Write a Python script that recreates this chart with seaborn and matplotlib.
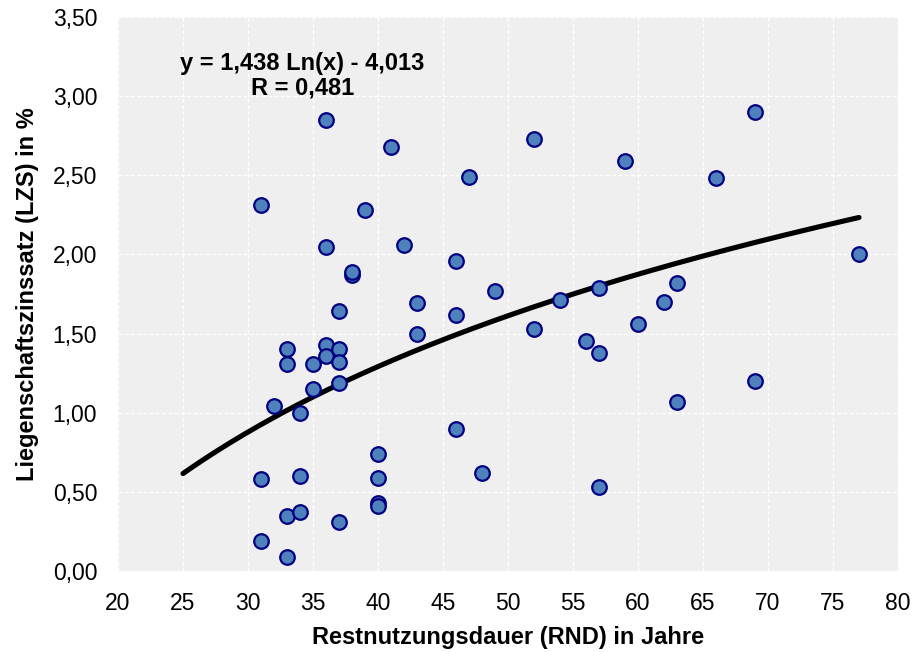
import numpy as np
import pandas as pd
import matplotlib
matplotlib.use("Agg")
import matplotlib.pyplot as plt
import seaborn as sns
from matplotlib.ticker import FuncFormatter, MultipleLocator

# Data
rnd = [31, 31, 31, 32, 33, 33, 33, 33, 34, 34, 34, 35, 35, 36, 36, 36, 36,
       37, 37, 37, 37, 37, 38, 38, 39, 40, 40, 40, 40, 41, 42, 43, 43,
       46, 46, 46, 47, 48, 49, 52, 52, 54, 56, 57, 57, 57, 59, 60, 62,
       63, 63, 66, 69, 69, 77]
lzs = [2.31, 0.58, 0.19, 1.04, 1.40, 1.31, 0.35, 0.09, 1.00, 0.60, 0.37, 1.31, 1.15,
       2.85, 2.05, 1.43, 1.36, 1.64, 1.40, 1.32, 1.19, 0.31, 1.87, 1.89, 2.28,
       0.74, 0.59, 0.43, 0.41, 2.68, 2.06, 1.69, 1.50, 1.96, 1.62, 0.90, 2.49,
       0.62, 1.77, 2.73, 1.53, 1.71, 1.45, 1.79, 1.38, 0.53, 2.59, 1.56, 1.70,
       1.82, 1.07, 2.48, 2.90, 1.20, 2.00]

# Logarithmic trendline as stated on the chart
trend_a = 1.438
trend_b = -4.013
trend_x_start = 25
trend_x_end = 77
equation_text = "y = 1,438 Ln(x) - 4,013\nR = 0,481"

x_label = "Restnutzungsdauer (RND) in Jahre"
y_label = "Liegenschaftszinssatz (LZS) in %"

df = pd.DataFrame({"RND": rnd, "LZS": lzs})
tx = np.linspace(trend_x_start, trend_x_end, 200)
trend_df = pd.DataFrame({"RND": tx, "LZS": trend_a * np.log(tx) + trend_b})

sns.set_theme(style="white")
plt.rcParams["font.family"] = ["Liberation Sans", "DejaVu Sans"]
plt.rcParams["text.color"] = "black"
plt.rcParams["axes.labelcolor"] = "black"

fig = plt.figure(figsize=(9.15, 6.52), dpi=100)
ax = fig.add_axes([118 / 915, 1 - 571 / 652, (898 - 118) / 915, (571 - 17) / 652])
ax.set_facecolor("#EFEFEF")

sns.lineplot(data=trend_df, x="RND", y="LZS", ax=ax, color="black", linewidth=3.7, zorder=2)
sns.scatterplot(data=df, x="RND", y="LZS", ax=ax, s=110, color="#4F81BD",
                edgecolor="#000080", linewidth=1.6, zorder=3)

ax.set_xlim(20, 80)
ax.set_ylim(0, 3.5)
ax.xaxis.set_major_locator(MultipleLocator(5))
ax.yaxis.set_major_locator(MultipleLocator(0.5))
ax.yaxis.set_major_formatter(FuncFormatter(lambda v, p: f"{v:.2f}".replace(".", ",")))
ax.grid(True, color="white", linestyle=(0, (3, 2)), linewidth=0.9)
ax.set_axisbelow(True)
for s in ax.spines.values():
    s.set_visible(False)
ax.tick_params(axis="both", length=0, labelsize=16.5, colors="black", pad=15)

ax.set_xlabel(x_label, fontsize=17, fontweight="bold", labelpad=8, color="black")
ax.set_ylabel(y_label, fontsize=17, fontweight="bold", labelpad=10, color="black")

ax.text(34.2, 3.13, equation_text, ha="center", va="center", multialignment="center",
        fontsize=17, fontweight="bold", linespacing=1.1, color="black")

fig.savefig("out.png", dpi=100)
